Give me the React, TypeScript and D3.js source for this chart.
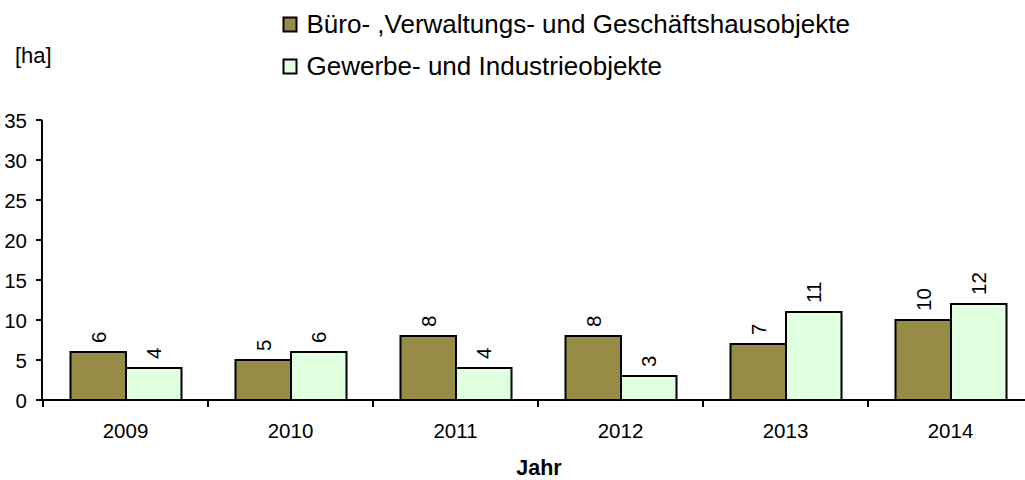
import React from "react";
import * as d3 from "d3";

const years = ["2009", "2010", "2011", "2012", "2013", "2014"];
const seriesNames = ["Büro- ,Verwaltungs- und Geschäftshausobjekte", "Gewerbe- und Industrieobjekte"];
const bueroValues = [6, 5, 8, 8, 7, 10];
const gewerbeValues = [4, 6, 4, 3, 11, 12];
const yTicks = [0, 5, 10, 15, 20, 25, 30, 35];
const colors = ["#968C46", "#DFFFDF"];
const yUnit = "[ha]";
const xTitle = "Jahr";

const W = 1025;
const H = 480;
const FONT = "'Liberation Sans', Arial, sans-serif";

export default function App() {
  const x0 = 43;
  const catW = 165;
  const x = d3.scaleBand().domain(years).range([x0, x0 + catW * years.length]).padding(0);
  const inner = d3.scaleBand().domain(["a", "b"]).range([27.5, 27.5 + 111]).padding(0);
  const y = d3.scaleLinear().domain([0, 35]).range([400, 120]);
  const series = [bueroValues, gewerbeValues];
  const keys = ["a", "b"];

  return (
    <svg width={W} height={H} style={{ position: "absolute", left: 0, top: 0, background: "#fff" }} fontFamily={FONT}>
      {/* legend */}
      {seriesNames.map((name, i) => (
        <g key={name} transform={`translate(283.5, ${17.5 + i * 42})`}>
          <rect x={0} y={0} width={13} height={14} fill={colors[i]} stroke="#000" strokeWidth={2} />
          <text x={23} y={15} fontSize={26} fill="#000">{name}</text>
        </g>
      ))}
      <text x={15} y={63} fontSize={22} fill="#000">{yUnit}</text>

      {/* bars */}
      {years.map((yr, j) => (
        <g key={yr} transform={`translate(${x(yr)},0)`}>
          {series.map((vals, i) => {
            const bx = inner(keys[i])!;
            const bw = inner.bandwidth();
            const by = y(vals[j]);
            return (
              <g key={i}>
                <rect x={bx} y={by} width={bw} height={y(0) - by} fill={colors[i]} stroke="#000" strokeWidth={2} />
                <text
                  transform={`translate(${bx + bw / 2}, ${by - 9}) rotate(-90)`}
                  dominantBaseline="central"
                  fontSize={20.5}
                  fill="#000"
                >
                  {vals[j]}
                </text>
              </g>
            );
          })}
        </g>
      ))}

      {/* y axis */}
      <line x1={42} x2={42} y1={y(35)} y2={y(0)} stroke="#000" strokeWidth={2} />
      {yTicks.map((t) => (
        <g key={t}>
          <line x1={36} x2={42} y1={y(t)} y2={y(t)} stroke="#000" strokeWidth={2} />
          <text x={27} y={y(t)} textAnchor="end" dominantBaseline="central" fontSize={20.5} fill="#000">
            {t}
          </text>
        </g>
      ))}

      {/* x axis */}
      <line x1={42} x2={x0 + catW * years.length} y1={y(0)} y2={y(0)} stroke="#000" strokeWidth={2} />
      {years.map((yr) => (
        <line key={yr} x1={x(yr)!} x2={x(yr)!} y1={y(0)} y2={y(0) + 7} stroke="#000" strokeWidth={2} />
      ))}
      {years.map((yr) => (
        <text key={yr} x={x(yr)! + x.bandwidth() / 2} y={438} textAnchor="middle" fontSize={20.5} fill="#000">
          {yr}
        </text>
      ))}
      <text x={539} y={475} textAnchor="middle" fontSize={21.5} fontWeight="bold" fill="#000">
        {xTitle}
      </text>
    </svg>
  );
}
